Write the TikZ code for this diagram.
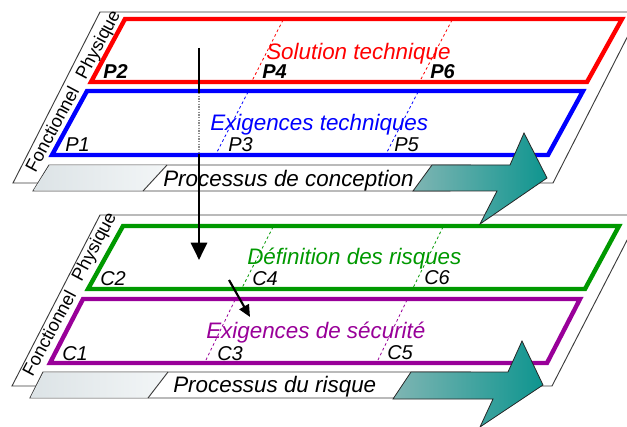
\documentclass[tikz,border=0pt]{standalone}
\usepackage{fontspec}
\setmainfont{Liberation Sans}
\usetikzlibrary{arrows.meta}
\definecolor{solred}{HTML}{FF0000}
\definecolor{exiblue}{HTML}{0000FF}
\definecolor{riskgreen}{HTML}{009900}
\definecolor{secpurple}{HTML}{990099}
\definecolor{tealleft}{HTML}{7FB5B3}
\definecolor{tealright}{HTML}{0E958F}
\definecolor{bandleft}{HTML}{DCE3E6}
\definecolor{bandright}{HTML}{F3F6F7}
\definecolor{frameline}{HTML}{3C3C3C}

\begin{document}
\begin{tikzpicture}[x=0.75pt,y=-0.75pt,
  frame/.style={draw=frameline,fill=white,line width=0.7pt},
  layer/.style={line width=3.3pt,line join=miter},
  trace/.style={dashed,dash pattern=on 2pt off 2pt,line width=0.6pt},
  band/.style={draw=frameline,fill=white,line width=0.7pt},
  bandshade/.style={left color=bandleft,right color=bandright},
  flow/.style={draw=black!85,line width=0.6pt,left color=tealleft,right color=tealright},
  title/.style={font=\fontsize{16.8}{20}\selectfont\itshape,inner sep=0pt,anchor=base west},
  proc/.style={font=\fontsize{16.8}{20}\selectfont\itshape,inner sep=0pt,anchor=base west},
  ptlabel/.style={font=\fontsize{15}{18}\selectfont\itshape,inner sep=0pt,anchor=base west},
  side/.style={font=\fontsize{13.6}{16}\selectfont,inner sep=0pt,rotate=62},
  downarrow/.style={line width=2.2pt,-{Triangle[length=13pt,width=12pt]}},
  behind/.style={line width=2.2pt,draw=black!45,dash pattern=on 1pt off 1pt},
  smallarrow/.style={line width=1.6pt,-{Triangle[length=9pt,width=8pt]}}
]
\useasboundingbox (0,0) rectangle (627,427);

% planes
\draw[frame] (100,12) -- (640,12) -- (553,183) -- (13,183) -- cycle;
\draw[frame] (100,215) -- (640,215) -- (552,386) -- (12,386) -- cycle;

% design layers
\draw[layer,solred] (125,19) -- (622,19) -- (587,82) -- (91,82) -- cycle;
\draw[layer,exiblue] (87,91) -- (583,91) -- (548,155) -- (52,155) -- cycle;
\draw[trace,solred] (283,20) -- (252,81);
\draw[trace,solred] (452,20) -- (420,81);
\draw[trace,exiblue] (248,92) -- (216,154);
\draw[trace,exiblue] (418,92) -- (386,154);

% risk layers
\draw[layer,riskgreen] (123,226) -- (619,226) -- (585,289) -- (88,289) -- cycle;
\draw[layer,secpurple] (83,299) -- (580,299) -- (547,363) -- (50,363) -- cycle;
\draw[trace,riskgreen] (273,227) -- (242,288);
\draw[trace,riskgreen] (443,227) -- (413,288);
\draw[trace,secpurple] (235,300) -- (205,362);
\draw[trace,secpurple] (407,300) -- (377,362);

\node[title,solred] (soltech) at (266,60) {Solution technique};
\node[title,exiblue] (exitech) at (210,131) {Exigences techniques};
\node[title,riskgreen] (defrisk) at (247,265) {Définition des risques};
\node[title,secpurple] (exisec) at (206,338) {Exigences de sécurité};

\foreach \n/\x/\y in {P2/103/79,P4/262/79,P6/430/79}
  \node[ptlabel,font=\fontsize{15}{18}\selectfont\bfseries\itshape] (\n) at (\x,\y) {\n};
\foreach \n/\x/\y in {P1/65/152,P3/228/152,P5/394/152,C2/100/285,C4/252/285,C6/424/284,C1/62/360,C3/217/360,C5/387/359}
  \node[ptlabel] (\n) at (\x,\y) {\n};

\node[side] (fonc1) at (52,129) {Fonctionnel};
\node[side] (phys1) at (99,45) {Physique};
\node[side] (fonc2) at (49,333) {Fonctionnel};
\node[side] (phys2) at (95,247) {Physique};

% process bands
\draw[band] (49,165) -- (470,165) -- (450,191) -- (33,191) -- cycle;
\shade[bandshade] (49.5,165.5) -- (167,165.5) -- (143,190.5) -- (33.5,190.5) -- cycle;
\draw[frameline,line width=0.7pt] (167,165) -- (143,191);
\node[proc] (conc) at (163,187) {Processus de conception};

\draw[band] (43,372) -- (470,372) -- (450,398) -- (30,398) -- cycle;
\shade[bandshade] (43.5,372.5) -- (168,372.5) -- (148,397.5) -- (30.5,397.5) -- cycle;
\draw[frameline,line width=0.7pt] (168,372) -- (148,398);
\node[proc] (risq) at (173,392) {Processus du risque};

\shadedraw[flow] (432,165) -- (510,165) -- (524,133) -- (547,178) -- (480,224)
  -- (497,191) -- (413,191) -- cycle;
\shadedraw[flow] (411,372) -- (508,372) -- (522,341) -- (543,385) -- (480,427)
  -- (493,399) -- (393,399) -- cycle;

% links
\coordinate (vtop) at (199,48);
\coordinate (vin) at (199,93);
\coordinate (vout) at (199,154);
\coordinate (vbot) at (199,260);
\draw[line width=2.2pt] (vtop) -- (vin);
\draw[behind] (vin) -- (vout);
\draw[downarrow] (vout) -- (vbot);

\coordinate (dtop) at (229,280);
\coordinate (dbot) at (250,317);
\draw[smallarrow] (dtop) -- (dbot);
\end{tikzpicture}
\end{document}
